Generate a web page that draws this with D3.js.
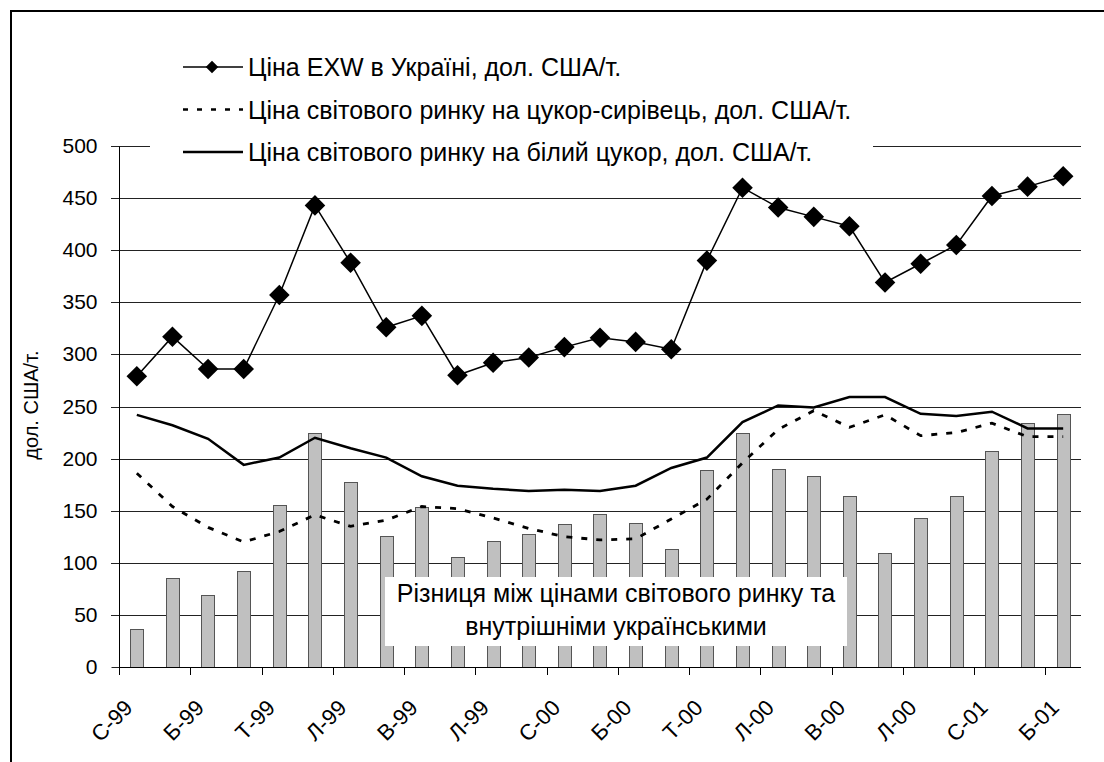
<!DOCTYPE html>
<html>
<head>
<meta charset="utf-8">
<script src="https://cdn.jsdelivr.net/npm/d3@7"></script>
<style>
  body { margin: 0; background: #fff; }
  text { font-family: "Liberation Sans", Arial, sans-serif; fill: #000; }
</style>
</head>
<body>
<div id="chart"></div>
<script>
// Months (Ukrainian initials), Jan 1999 - Mar 2001
var months = ["С-99","Л-99","Б-99","К-99","Т-99","Ч-99","Л-99","С-99","В-99","Ж-99","Л-99","Г-99",
              "С-00","Л-00","Б-00","К-00","Т-00","Ч-00","Л-00","С-00","В-00","Ж-00","Л-00","Г-00",
              "С-01","Л-01","Б-01"];

// Ціна EXW в Україні
var exwPrice = [279,317,286,286,357,443,388,326,337,280,292,297,307,316,312,305,390,460,441,432,423,369,387,405,452,461,471];
// Ціна світового ринку на цукор-сирівець
var rawPrice = [186,154,134,120,130,146,135,141,154,152,143,133,125,122,123,142,161,196,228,246,230,242,222,225,234,221,221];
// Ціна світового ринку на білий цукор
var whitePrice = [242,232,219,194,201,220,210,201,183,174,171,169,170,169,174,191,201,235,251,249,259,259,243,241,245,229,229];
// Різниця між цінами
var diffValues = [36,85,69,92,155,225,178,126,154,106,121,128,137,147,138,113,189,225,190,183,164,109,143,164,207,234,243];

var yTicks = d3.range(0, 501, 50);

var legendLabels = ["Ціна EXW в Україні, дол. США/т.",
                    "Ціна світового ринку на цукор-сирівець, дол. США/т.",
                    "Ціна світового ринку на білий цукор, дол. США/т."];

var width = 1104, height = 762;
var plot = {left: 119, right: 1081, top: 146, bottom: 667};

var svg = d3.select("#chart").append("svg")
  .attr("width", width)
  .attr("height", height);

svg.append("rect").attr("width", width).attr("height", height).attr("fill", "#fff");

// outer frame
svg.append("path")
  .attr("d", "M11," + height + "V11H" + width)
  .attr("fill", "none")
  .attr("stroke", "#000")
  .attr("stroke-width", 2);

var idx = d3.range(months.length);

var x = d3.scaleBand()
  .domain(idx)
  .range([plot.left, plot.right])
  .paddingInner(0.63)
  .paddingOuter(0.315);

var xEdge = d3.scaleLinear()
  .domain([0, months.length])
  .range([plot.left, plot.right]);

var y = d3.scaleLinear()
  .domain([0, 500])
  .range([plot.bottom, plot.top]);

function cx(i) { return x(i) + x.bandwidth() / 2; }
function crisp(v) { return Math.round(v) + 0.5; }

// gridlines
svg.append("g").selectAll("line")
  .data(yTicks.filter(function(d) { return d > 0; }))
  .enter().append("line")
  .attr("x1", plot.left - 8)
  .attr("x2", plot.right)
  .attr("y1", function(d) { return crisp(y(d)); })
  .attr("y2", function(d) { return crisp(y(d)); })
  .attr("stroke", "#222")
  .attr("stroke-width", 1);

// bars
svg.append("g").selectAll("rect")
  .data(diffValues)
  .enter().append("rect")
  .attr("x", function(d, i) { return crisp(x(i)); })
  .attr("y", function(d) { return crisp(y(d)); })
  .attr("width", Math.round(x.bandwidth()))
  .attr("height", function(d) { return crisp(y(0)) - crisp(y(d)); })
  .attr("fill", "#c0c0c0")
  .attr("stroke", "#555")
  .attr("stroke-width", 1);

// y axis
var yAxis = d3.axisLeft(y).tickValues(yTicks).tickSize(8).tickPadding(14);
var gy = svg.append("g")
  .attr("transform", "translate(" + crisp(plot.left) + ",0)")
  .call(yAxis);
gy.select(".domain").remove();
gy.selectAll(".tick").attr("transform", function(d) { return "translate(0," + crisp(y(d)) + ")"; });
gy.append("line")
  .attr("x1", 0).attr("x2", 0)
  .attr("y1", crisp(y(500))).attr("y2", crisp(y(0)))
  .attr("stroke", "#000");
gy.selectAll(".tick line").attr("stroke", "#222");
gy.selectAll(".tick text")
  .style("font-family", "'Liberation Sans', Arial, sans-serif")
  .style("font-size", "21px")
  .attr("fill", "#000");

// x axis
var gx = svg.append("g");
gx.append("line")
  .attr("x1", plot.left).attr("x2", plot.right)
  .attr("y1", crisp(y(0))).attr("y2", crisp(y(0)))
  .attr("stroke", "#000");
gx.selectAll(".xtick")
  .data(d3.range(0, months.length, 2))
  .enter().append("line")
  .attr("class", "xtick")
  .attr("x1", function(d) { return crisp(xEdge(d)); })
  .attr("x2", function(d) { return crisp(xEdge(d)); })
  .attr("y1", y(0))
  .attr("y2", y(0) + 8)
  .attr("stroke", "#000");
gx.selectAll(".xlabel")
  .data(d3.range(0, months.length, 2))
  .enter().append("text")
  .attr("class", "xlabel")
  .attr("text-anchor", "end")
  .attr("transform", function(d) {
    return "translate(" + (cx(d) - 14) + "," + (y(0) + 31) + ") rotate(-45)";
  })
  .attr("dy", "0.72em")
  .style("font-size", "22px")
  .text(function(d) { return months[d]; });

// y axis title
svg.append("text")
  .attr("transform", "translate(38,405) rotate(-90)")
  .attr("text-anchor", "middle")
  .style("font-size", "20px")
  .text("дол. США/т.");

// lines
var line = d3.line()
  .x(function(d, i) { return cx(i); })
  .y(function(d) { return y(d); });

svg.append("path")
  .datum(rawPrice)
  .attr("d", line)
  .attr("fill", "none")
  .attr("stroke", "#000")
  .attr("stroke-width", 2.8)
  .attr("stroke-dasharray", "6,9");

svg.append("path")
  .datum(whitePrice)
  .attr("d", line)
  .attr("fill", "none")
  .attr("stroke", "#000")
  .attr("stroke-width", 2.5);

svg.append("path")
  .datum(exwPrice)
  .attr("d", line)
  .attr("fill", "none")
  .attr("stroke", "#000")
  .attr("stroke-width", 1.5);

var diamond = d3.symbol().type(d3.symbolDiamond2).size(270);
svg.append("g").selectAll("path")
  .data(exwPrice)
  .enter().append("path")
  .attr("d", diamond)
  .attr("transform", function(d, i) { return "translate(" + cx(i) + "," + y(d) + ")"; })
  .attr("fill", "#000");

// legend box
svg.append("rect")
  .attr("x", 150).attr("y", 40)
  .attr("width", 723).attr("height", 125)
  .attr("fill", "#fff");

var legend = svg.append("g").selectAll("g")
  .data(legendLabels)
  .enter().append("g")
  .attr("transform", function(d, i) { return "translate(183," + (67 + i * 42.5) + ")"; });

legend.append("line")
  .attr("x1", 0).attr("x2", 60)
  .attr("stroke", "#000")
  .attr("stroke-width", function(d, i) { return i === 0 ? 1.5 : 2.5; })
  .attr("stroke-dasharray", function(d, i) { return i === 1 ? "5,9" : null; });

legend.filter(function(d, i) { return i === 0; })
  .append("path")
  .attr("d", d3.symbol().type(d3.symbolDiamond2).size(100))
  .attr("transform", "translate(29,0)")
  .attr("fill", "#000");

legend.append("text")
  .attr("x", 65)
  .attr("dy", "0.36em")
  .style("font-size", "25px")
  .text(function(d) { return d; });

// annotation box
svg.append("rect")
  .attr("x", 385).attr("y", 577)
  .attr("width", 462).attr("height", 69)
  .attr("fill", "#fff");

var note = svg.append("text")
  .attr("text-anchor", "middle")
  .style("font-size", "25px");
note.append("tspan").attr("x", 616).attr("y", 602).text("Різниця між цінами світового ринку та");
note.append("tspan").attr("x", 616).attr("y", 635).text("внутрішніми українськими");
</script>
</body>
</html>
